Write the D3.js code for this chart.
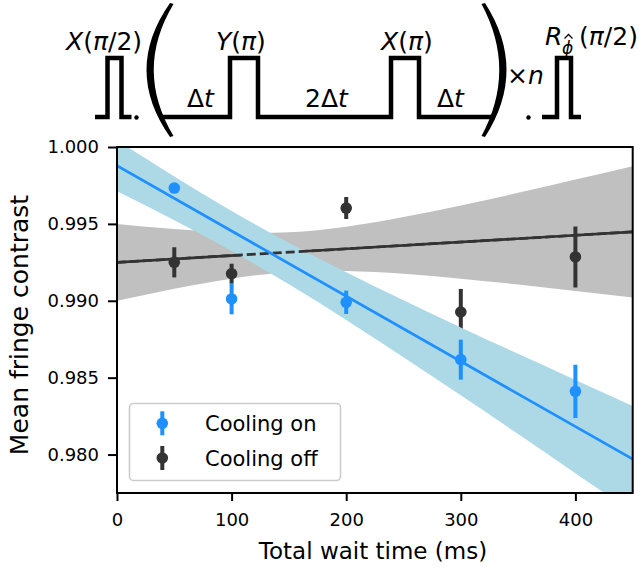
<!DOCTYPE html>
<html>
<head>
<meta charset="utf-8">
<script src="https://cdn.jsdelivr.net/npm/d3@7"></script>
<style>
  body { margin: 0; background: #fff; }
  svg { display: block; }
  text { font-family: "DejaVu Sans", sans-serif; fill: #000; }
</style>
</head>
<body>
<svg id="chart" width="639" height="567"></svg>
<script>
// Measured fringe contrast after the dynamical-decoupling sequence
const waitTimes = [50, 100, 200, 300, 400];
const coolingOn = [0.99733, 0.99012, 0.98990, 0.98617, 0.98411];
const coolingOnErr = [0.0003, 0.0010, 0.00076, 0.0013, 0.00173];
const coolingOff = [0.99250, 0.99176, 0.99603, 0.98927, 0.99285];
const coolingOffErr = [0.00098, 0.00065, 0.00072, 0.0015, 0.00198];

// Linear fits and their confidence bands
const fitX = [0, 450];
const fitOn = [0.99878, 0.97970];
const fitOff = [0.99250, 0.99448];
const bandX = [0, 50, 100, 150, 200, 250, 300, 350, 400, 450];
const bandOnLow = [0.99712, 0.99524, 0.99324, 0.99107, 0.98875, 0.98633, 0.98385, 0.98133, 0.97879, 0.97624];
const bandOnHigh = [1.00044, 0.99808, 0.99584, 0.99377, 0.99185, 0.99003, 0.98827, 0.98655, 0.98485, 0.98316];
const bandOffLow = [0.99000, 0.99078, 0.99144, 0.99186, 0.99194, 0.99176, 0.99144, 0.99106, 0.99064, 0.99021];
const bandOffHigh = [0.99500, 0.99467, 0.99445, 0.99446, 0.99482, 0.99545, 0.99620, 0.99702, 0.99788, 0.99875];

const xTicks = [0, 100, 200, 300, 400];
const yTicks = [0.980, 0.985, 0.990, 0.995, 1.000];
const seriesNames = ["Cooling on", "Cooling off"];

const BLUE = "#1e90ff", DARK = "#333333", BAND_BLUE = "#add8e6", BAND_GREY = "#c0c0c0";

const svg = d3.select("#chart");
const plot = { left: 117, right: 632.7, top: 147, bottom: 493 };

const x = d3.scaleLinear().domain([0, 450]).range([plot.left, plot.right]);
const y = d3.scaleLinear().domain([0.9775, 1.0]).range([plot.bottom, plot.top]);

svg.append("defs").append("clipPath").attr("id", "plotClip")
  .append("rect")
  .attr("x", plot.left).attr("y", plot.top)
  .attr("width", plot.right - plot.left).attr("height", plot.bottom - plot.top);

const inner = svg.append("g").attr("clip-path", "url(#plotClip)");

const area = (lo, hi) => d3.area()
  .x((d, i) => x(bandX[i]))
  .y0((d, i) => y(lo[i]))
  .y1((d, i) => y(hi[i]))
  .curve(d3.curveNatural)(bandX);

const fitLine = vals => d3.line()
  .x((d, i) => x(fitX[i]))
  .y((d, i) => y(vals[i]))(fitX);

function errorbars(g, vals, errs, color) {
  const pts = waitTimes.map((t, i) => ({ t, v: vals[i], e: errs[i] }));
  g.selectAll(null).data(pts).join("line")
    .attr("x1", d => x(d.t)).attr("x2", d => x(d.t))
    .attr("y1", d => y(d.v - d.e)).attr("y2", d => y(d.v + d.e))
    .attr("stroke", color).attr("stroke-width", 4);
  g.selectAll(null).data(pts).join("circle")
    .attr("cx", d => x(d.t)).attr("cy", d => y(d.v))
    .attr("r", 5.8).attr("fill", color);
}

// cooling off: band, fit, points
inner.append("path").attr("d", area(bandOffLow, bandOffHigh)).attr("fill", BAND_GREY);
inner.append("path").attr("d", fitLine(fitOff)).attr("stroke", DARK).attr("stroke-width", 2.7).attr("fill", "none");
errorbars(inner.append("g"), coolingOff, coolingOffErr, DARK);

// cooling on: band sits over the grey layer
inner.append("path").attr("d", area(bandOnLow, bandOnHigh)).attr("fill", BAND_BLUE);
inner.append("path").attr("d", fitLine(fitOff)).attr("stroke", DARK).attr("stroke-width", 2.7)
  .attr("stroke-dasharray", "9,4").attr("fill", "none");
inner.append("path").attr("d", fitLine(fitOn)).attr("stroke", BLUE).attr("stroke-width", 2.7).attr("fill", "none");
errorbars(inner.append("g"), coolingOn, coolingOnErr, BLUE);

// axes
const xAxis = svg.append("g").attr("transform", `translate(0,${plot.bottom})`)
  .call(d3.axisBottom(x).tickValues(xTicks).tickFormat(d3.format("d")).tickSize(8).tickPadding(12));
const yAxis = svg.append("g").attr("transform", `translate(${plot.left},0)`)
  .call(d3.axisLeft(y).tickValues(yTicks).tickFormat(d3.format(".3f")).tickSize(9).tickPadding(9));
[xAxis, yAxis].forEach(a => {
  a.select(".domain").remove();
  a.selectAll(".tick line").attr("stroke", "#000").attr("stroke-width", 2);
  a.selectAll(".tick text").attr("font-size", 18).attr("font-family", "DejaVu Sans").attr("fill", "#000");
});
svg.append("rect")
  .attr("x", plot.left).attr("y", plot.top)
  .attr("width", plot.right - plot.left).attr("height", plot.bottom - plot.top)
  .attr("fill", "none").attr("stroke", "#000").attr("stroke-width", 2);

svg.append("text").attr("x", 373).attr("y", 559).attr("text-anchor", "middle")
  .attr("font-size", 23).text("Total wait time (ms)");
svg.append("text").attr("transform", "translate(28,325) rotate(-90)").attr("text-anchor", "middle")
  .attr("font-size", 25).text("Mean fringe contrast");

// legend
const legend = svg.append("g");
legend.append("rect").attr("x", 129.5).attr("y", 403.5).attr("width", 211).attr("height", 77)
  .attr("rx", 4).attr("fill", "#fff").attr("fill-opacity", 0.8)
  .attr("stroke", "#cccccc").attr("stroke-width", 1.6);
[BLUE, DARK].forEach((c, i) => {
  const cy = 423.3 + i * 34.7;
  legend.append("line").attr("x1", 162.3).attr("x2", 162.3).attr("y1", cy - 12).attr("y2", cy + 12)
    .attr("stroke", c).attr("stroke-width", 4);
  legend.append("circle").attr("cx", 162.3).attr("cy", cy).attr("r", 5.8).attr("fill", c);
  legend.append("text").attr("x", 205).attr("y", cy + 8).attr("font-size", 21).text(seriesNames[i]);
});

// pulse-sequence schematic above the axes
const seq = svg.append("g");
const wire = d3.line();
const base = 117, high = 58;
const pulseTrains = [
  [[95, base], [107.5, base], [107.5, high], [121.5, high], [121.5, base], [131.5, base]],
  [[160, base], [230, base], [230, high], [258, high], [258, base], [391, base], [391, high], [419, high], [419, base], [494, base]],
  [[542, base], [557, base], [557, high], [571, high], [571, base], [581, base]]
];
pulseTrains.forEach(p => seq.append("path").attr("d", wire(p))
  .attr("fill", "none").attr("stroke", "#000").attr("stroke-width", 4.5).attr("stroke-linejoin", "miter"));

// large brackets
seq.append("path").attr("d", "M170,3 Q123,70 170,137 L173.5,136 Q134,70 173.5,4 Z").attr("fill", "#000");
seq.append("path").attr("d", "M485,3 Q528,70 485,137 L481.5,136 Q517,70 481.5,4 Z").attr("fill", "#000");
seq.append("circle").attr("cx", 136.5).attr("cy", 117.5).attr("r", 2.2).attr("fill", "#000");
seq.append("circle").attr("cx", 528.5).attr("cy", 117.5).attr("r", 2.2).attr("fill", "#000");

function mathText(xp, yp, parts, size) {
  const t = seq.append("text").attr("x", xp).attr("y", yp).attr("font-size", size);
  parts.forEach(([s, it]) => t.append("tspan").attr("font-style", it ? "italic" : "normal").text(s));
  return t;
}
mathText(66, 50, [["X", 1], ["(", 0], ["π", 1], ["/2)", 0]], 25);
mathText(216, 50, [["Y", 1], ["(", 0], ["π", 1], [")", 0]], 25);
mathText(381, 50, [["X", 1], ["(", 0], ["π", 1], [")", 0]], 25);
mathText(187, 107, [["Δ", 0], ["t", 1]], 25);
mathText(305, 107, [["2Δ", 0], ["t", 1]], 25);
mathText(437, 107, [["Δ", 0], ["t", 1]], 25);
mathText(507, 84, [["×", 0], ["n", 1]], 25);
mathText(545, 45, [["R", 1]], 25);
mathText(562, 54, [["ϕ", 1]], 17);
// circumflex accent over the subscript
seq.append("path").attr("d", "M564.5,38.5 L568.5,34.5 L572.5,38.5")
  .attr("fill", "none").attr("stroke", "#000").attr("stroke-width", 1.3);
mathText(579, 45, [["(", 0], ["π", 1], ["/2)", 0]], 25);
</script>
</body>
</html>
